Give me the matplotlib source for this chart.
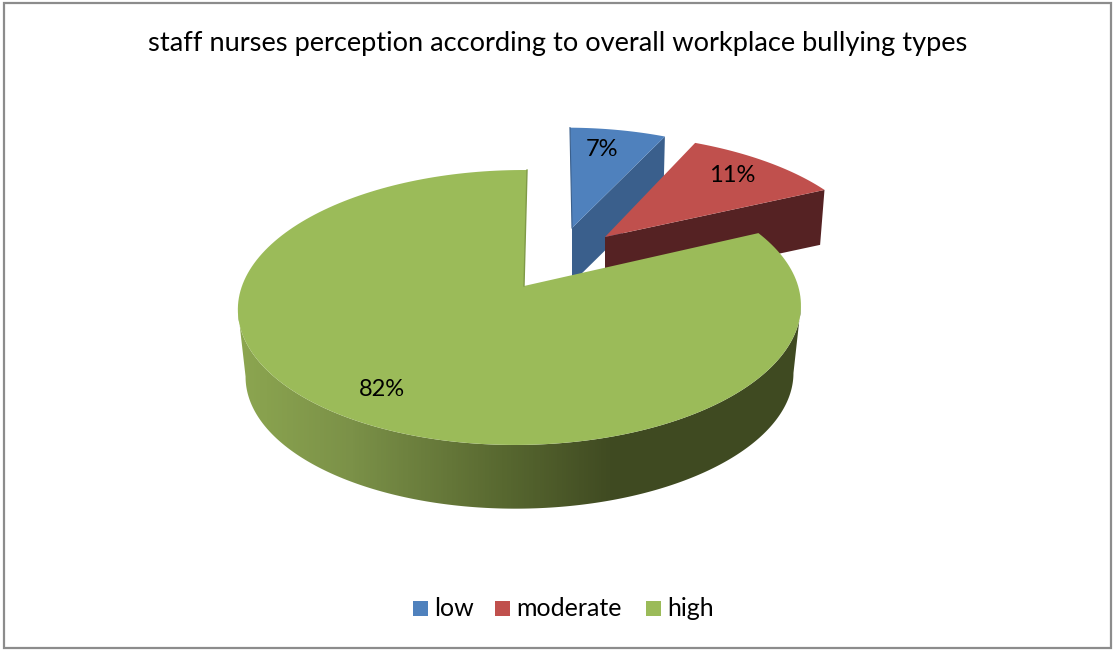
import matplotlib
matplotlib.use('Agg')
import matplotlib.pyplot as plt
from matplotlib.colors import LinearSegmentedColormap
from matplotlib.patches import Polygon, Rectangle
import numpy as np

title = 'staff nurses perception according to overall workplace bullying types'
categories = ['low', 'moderate', 'high']
values = [7, 11, 82]
colors = ['#4f81bd', '#c0504d', '#9bbb59']
side_colors = ['#3a5f8c', '#552223', None]

plt.rcParams['font.family'] = ['Lato', 'DejaVu Sans']

fig = plt.figure(figsize=(11.13, 6.5), dpi=100)
ax = fig.add_axes([0, 0, 1, 1])


def project(theta, apex, scale, drop=0.0, shrink=1.0, xs=1.0, skew=0.0):
    # perspective view of the unit circle, theta clockwise from the top
    X = np.sin(theta)
    Y = np.cos(theta)
    w = 1 + 0.1563 * Y + 0.0142 * X
    px = (278 * X + 3.5 * Y) / w * scale * shrink
    py = -134.1 * Y / w * scale * shrink
    return apex[0] + xs * px + skew * py, apex[1] + py + drop


def top_outline(t0, t1, apex, scale, xs=1.0, skew=0.0):
    t = np.linspace(t0, t1, 200)
    x, y = project(t, apex, scale, xs=xs, skew=skew)
    return np.column_stack([np.r_[apex[0], x], np.r_[apex[1], y]])


edges = np.radians(np.r_[0, np.cumsum(values)] * 3.6)

# low slice
apex = (572, 228)
t0, t1 = edges[0], edges[1]
xr, yr = project(t1, apex, 0.865, xs=1.062, skew=0.048)
xl, yl = project(t1, apex, 0.865, 55, 0.985, xs=1.062, skew=0.048)
ax.add_patch(Polygon([apex, (xr, yr), (xl, yl), (apex[0], apex[1] + 55)], fc=side_colors[0], ec='none'))
ax.add_patch(Polygon(top_outline(t0, t1, apex, 0.865, 1.062, 0.048), fc=colors[0], ec='none'))
x0, y0 = project(t0, apex, 0.865, xs=1.062, skew=0.048)
ax.plot([apex[0], x0], [apex[1], y0], color='#3a5f8c', lw=0.8)

# moderate slice
apex = (605, 237)
t0, t1 = edges[1], edges[2]
xr, yr = project(t1, apex, 0.89, xs=1.08, skew=0.124)
xl, yl = project(t1, apex, 0.89, 54, 0.98, xs=1.08, skew=0.124)
ax.add_patch(Polygon([apex, (xr, yr), (xl, yl), (apex[0], apex[1] + 54)], fc=side_colors[1], ec='none'))
ax.add_patch(Polygon(top_outline(t0, t1, apex, 0.89, 1.08, 0.124), fc=colors[1], ec='none'))

# high slice, side wall with the shading running left to right
apex = (524, 286)
t0, t1 = edges[2], edges[3]
t = np.linspace(t0, t1, 600)
xa, ya = project(t, apex, 1.0)
xb, yb = project(t, apex, 1.0, 68, 0.973)
ia, ja = xa.argmax(), xa.argmin()
ib, jb = xb.argmax(), xb.argmin()
wall = Polygon(np.column_stack([np.r_[xa[ia:ja + 1], xb[ib:jb + 1][::-1]],
                                np.r_[ya[ia:ja + 1], yb[ib:jb + 1][::-1]]]), fc='none', ec='none')
ax.add_patch(wall)
shade = LinearSegmentedColormap.from_list('shade', [(0.0, '#8ca650'), (0.2, '#7b9148'), (0.47, '#586830'),
                                                    (0.66, '#404b22'), (1.0, '#3f4a21')])
img = ax.imshow(np.linspace(0, 1, 564)[None, :], cmap=shade, extent=[238, 802, 515, 170], aspect='auto')
img.set_clip_path(wall)
ax.add_patch(Polygon(top_outline(t0, t1, apex, 1.0), fc=colors[2], ec='none'))
x0, y0 = project(t1, apex, 1.0)
ax.plot([x0, apex[0]], [y0, apex[1]], color='#7f9a47', lw=1.0)

# data labels
label_xy = [(602, 150), (732, 176), (382, 390)]
for v, (lx, ly) in zip(values, label_xy):
    ax.text(lx, ly, f'{v}%', fontsize=17, color='black', ha='center', va='center')

ax.text(557.5, 43, title, fontsize=19.65, color='black', ha='center', va='center')

# legend
swatch_x = [413, 495, 646]
for name, c, sx in zip(categories, colors, swatch_x):
    ax.add_patch(Rectangle((sx, 601), 15, 15, fc=c, ec='none'))
    ax.text(sx + 21, 607, name, fontsize=18, color='black', ha='left', va='center_baseline')

# chart frame
ax.add_patch(Rectangle((3.5, 2.5), 1107, 645.5, fc='none', ec='#8c8c8c', lw=1.6))

ax.set_xlim(0, 1113)
ax.set_ylim(650, 0)
ax.axis('off')

fig.savefig('out.png', dpi=100, facecolor='white')
